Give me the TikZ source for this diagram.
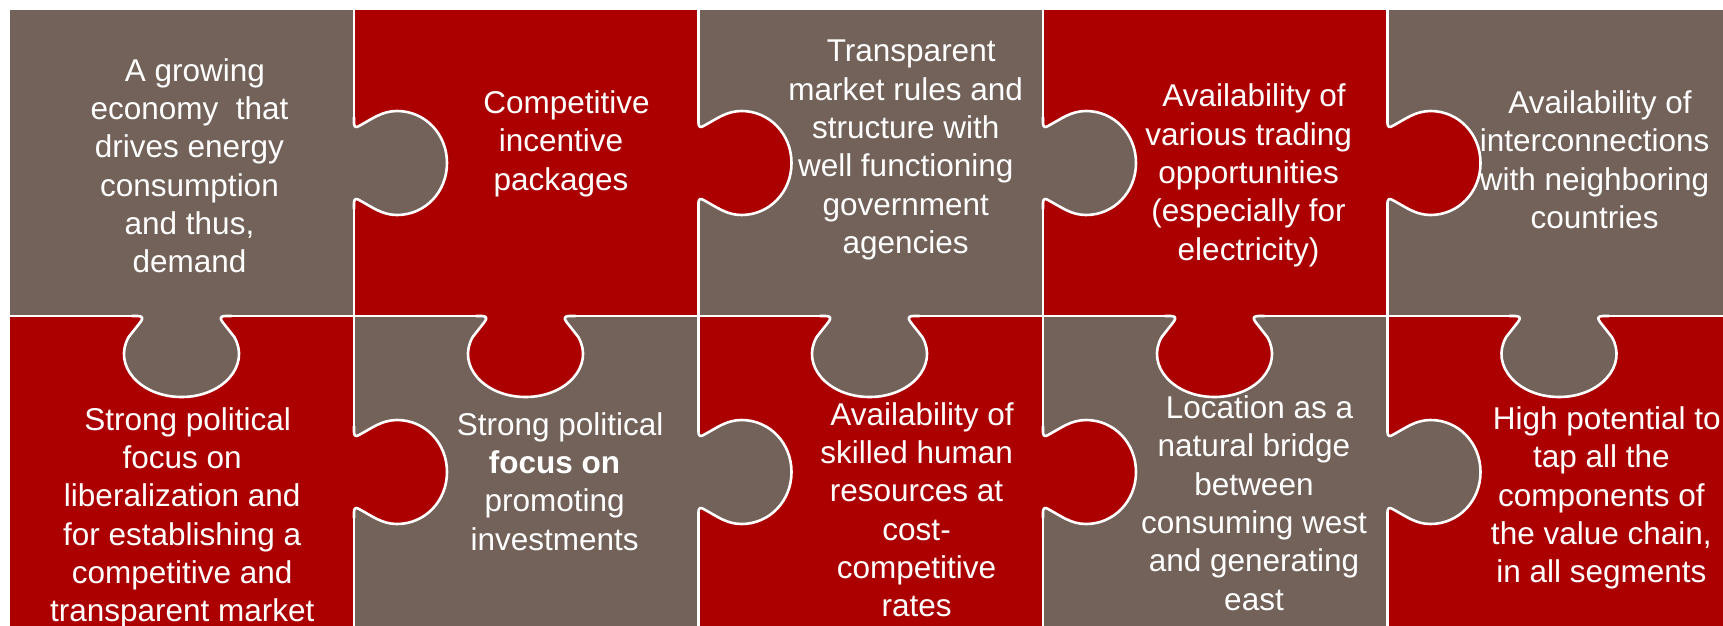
\documentclass[tikz,border=0pt]{standalone}
\usepackage{fontspec}
\setmainfont{Liberation Sans}
\definecolor{pzred}{RGB}{172,0,0}
\definecolor{pzgrey}{RGB}{115,98,89}
\tikzset{
  pzline/.style={draw=white, line width=2.6pt, line join=round},
  pztext/.style={text=white, align=center, anchor=north, inner sep=0pt,
    font=\fontsize{31.5pt}{38.3pt}\selectfont},
  hcurve/.style 2 args={insert path={
    .. controls (#1,{#2-36}) and ({#1+2},{#2-35}) .. ({#1+5},{#2-37})
    .. controls ({#1+18},{#2-44}) and ({#1+28},{#2-52}) .. ({#1+43},{#2-52})
    .. controls ({#1+71},{#2-52}) and ({#1+93},{#2-29}) .. ({#1+93},{#2})
    .. controls ({#1+93},{#2+29}) and ({#1+71},{#2+52}) .. ({#1+43},{#2+52})
    .. controls ({#1+28},{#2+52}) and ({#1+18},{#2+44}) .. ({#1+5},{#2+37})
    .. controls ({#1+2},{#2+35}) and (#1,{#2+36}) .. (#1,{#2+40})
  }},
  vcurve/.style 2 args={insert path={
    .. controls ({#1-39},#2) and ({#1-38},{#2+2}) .. ({#1-41},{#2+6})
    -- ({#1-52.8},{#2+21})
    .. controls ({#1-69.1},{#2+49.4}) and ({#1-41.3},{#2+81}) .. (#1,{#2+81})
    .. controls ({#1+41.3},{#2+81}) and ({#1+69.1},{#2+49.4}) .. ({#1+52.8},{#2+21})
    -- ({#1+41},{#2+6})
    .. controls ({#1+38},{#2+2}) and ({#1+39},#2) .. ({#1+44},#2)
  }},
}
\newcommand\pzhtab[3]{%
  \fill[#3] ({#1-3},{#2-40}) -- (#1,{#2-40}) [hcurve={#1}{#2}] -- ({#1-3},{#2+40}) -- cycle;
  \draw[pzline] (#1,{#2-46}) -- (#1,{#2-40}) [hcurve={#1}{#2}] -- (#1,{#2+46});
}
\newcommand\pzvtab[3]{%
  \fill[#3] ({#1-44},{#2-3}) -- ({#1-44},#2) [vcurve={#1}{#2}] -- ({#1+44},{#2-3}) -- cycle;
  \draw[pzline] ({#1-50},#2) -- ({#1-44},#2) [vcurve={#1}{#2}] -- ({#1+50},#2);
}
\begin{document}
\begin{tikzpicture}[x=1pt,y=1pt,yscale=-1]
\useasboundingbox (0,0) rectangle (1723,626);
\fill[white] (0,0) rectangle (1723,626);
\clip (0,0) rectangle (1723,626);
% pieces
\filldraw[fill=pzgrey, pzline] (9,9) rectangle (354,316);
\filldraw[fill=pzred,  pzline] (354,9) rectangle (698.5,316);
\filldraw[fill=pzgrey, pzline] (698.5,9) rectangle (1043,316);
\filldraw[fill=pzred,  pzline] (1043,9) rectangle (1387.5,316);
\filldraw[fill=pzgrey, pzline] (1387.5,9) rectangle (1732,316);
\filldraw[fill=pzred,  pzline] (9,316) rectangle (354,640);
\filldraw[fill=pzgrey, pzline] (354,316) rectangle (698.5,640);
\filldraw[fill=pzred,  pzline] (698.5,316) rectangle (1043,640);
\filldraw[fill=pzgrey, pzline] (1043,316) rectangle (1387.5,640);
\filldraw[fill=pzred,  pzline] (1387.5,316) rectangle (1732,640);
% tabs to the right
\pzhtab{354}{163}{pzgrey}
\pzhtab{698.5}{163}{pzred}
\pzhtab{1043}{163}{pzgrey}
\pzhtab{1387.5}{163}{pzred}
\pzhtab{354}{472}{pzred}
\pzhtab{698.5}{472}{pzgrey}
\pzhtab{1043}{472}{pzred}
\pzhtab{1387.5}{472}{pzgrey}
% tabs downward
\pzvtab{181.5}{316}{pzgrey}
\pzvtab{525.5}{316}{pzred}
\pzvtab{869.5}{316}{pzgrey}
\pzvtab{1214.5}{316}{pzred}
\pzvtab{1559}{316}{pzgrey}
% texts
\node[pztext] (t11) at (189.5,55) {\rule{0pt}{26pt}\hspace*{11pt}A growing\\economy\ \ that\\drives energy\\consumption\\and thus,\\demand};
\node[pztext] (t12) at (561,87.3) {\rule{0pt}{26pt}\hspace*{11pt}Competitive\\incentive\\packages};
\node[pztext] (t13) at (905.7,35.7) {\rule{0pt}{26pt}\hspace*{11pt}Transparent\\market rules and\\structure with\\well functioning\\government\\agencies};
\node[pztext] (t14) at (1248.6,80.7) {\rule{0pt}{26pt}\hspace*{11pt}Availability of\\various trading\\opportunities\\(especially for\\electricity)};
\node[pztext] (t15) at (1594.6,87.3) {\rule{0pt}{26pt}\hspace*{11pt}Availability of\\interconnections\\with neighboring\\countries};
\node[pztext] (t21) at (182.2,404) {\rule{0pt}{26pt}\hspace*{11pt}Strong political\\focus on\\liberalization and\\for establishing a\\competitive and\\transparent market};
\node[pztext] (t22) at (554.6,409) {\rule{0pt}{26pt}\hspace*{11pt}Strong political\\\textbf{focus on}\\promoting\\investments};
\node[pztext] (t23) at (916.6,399) {\rule{0pt}{26pt}\hspace*{11pt}Availability of\\skilled human\\resources at\\cost-\\competitive\\rates};
\node[pztext] (t24) at (1254,392.3) {\rule{0pt}{26pt}\hspace*{11pt}Location as a\\natural bridge\\between\\consuming west\\and generating\\east};
\node[pztext] (t25) at (1601.3,403.3) {\rule{0pt}{26pt}\hspace*{11pt}High potential to\\tap all the\\components of\\the value chain,\\in all segments};
\end{tikzpicture}
\end{document}
